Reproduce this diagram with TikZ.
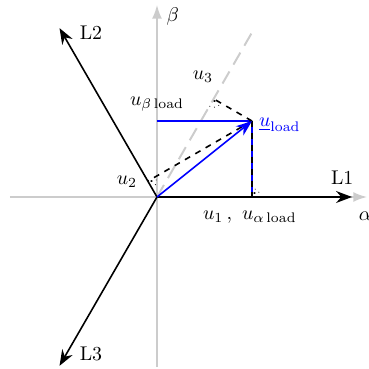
\documentclass[tikz,border=0pt]{standalone}
\usepackage{amsmath}
\usetikzlibrary{calc,arrows.meta,angles,quotes}
\definecolor{axisgray}{HTML}{CCCCCC}
\definecolor{loadblue}{HTML}{0000FF}

\begin{document}
\begin{tikzpicture}[x=0.74cm,y=0.74cm,
  phase/.style={thick,-{Stealth[length=8pt,width=6pt]}},
  frame/.style={axisgray,line width=1pt,-{Latex[length=7pt,width=5pt]}},
  proj/.style={thick,dashed},
  perp/.style={draw,dotted,angle radius=0.15cm,angle eccentricity=0.45}]
\useasboundingbox (-3.756,-4.115) rectangle (5.048,4.713);
\coordinate (O) at (0,0);
\coordinate (U) at (2.273,1.818);
\coordinate (L1) at (0:4.665);
\coordinate (L2) at (120:4.665);
\coordinate (L3) at (240:4.665);
\coordinate (g60) at (60:4.55);
\coordinate (F1) at ($(O)!(U)!(L1)$);
\coordinate (F2) at ($(O)!(U)!(L2)$);
\coordinate (F3) at ($(O)!(U)!(g60)$);
\coordinate (Ub) at (0,1.818);
% alpha/beta frame
\draw[frame] (-3.52,0) -- (5.03,0);
\draw[frame] (0,-4.07) -- (0,4.6);
\draw[axisgray,line width=1pt,dash pattern=on 7pt off 4pt] (O) -- (g60);
\node at (4.98,-0.45) {$\alpha$};
\node at (0.38,4.31) {$\beta$};
% phase axes
\draw[phase] (O) -- (L1);
\draw[phase] (O) -- (L2);
\draw[phase] (O) -- (L3);
\node at (4.43,0.45) {L1};
\node at (-1.58,3.92) {L2};
\node at (-1.58,-3.76) {L3};
% load vector
\draw[loadblue,thick] (Ub) -- (U);
\draw[loadblue,thick] (U) -- (F1);
\draw[proj] (U) -- (F1);
\draw[proj] (U) -- (F2);
\draw[proj] (U) -- (F3);
\draw[loadblue,thick,-{Stealth[length=8pt,width=6pt]}] (O) -- (U);
\pic[perp,"$\cdot$"] {angle=L1--F1--U};
\pic[perp,"$\cdot$"] {angle=O--F2--U};
\pic[perp,"$\cdot$"] {angle=O--F3--U};
\node[loadblue,right,yshift=-2pt] at (U) {$\underline{u}_\text{load}$};
\node at (0,2.22) {$u_{\beta\,\text{load}}$};
\node at (2.22,-0.48) {$u_1\,,\ u_{\alpha\,\text{load}}$};
\node at (-0.72,0.36) {$u_2$};
\node at (1.10,2.87) {$u_3$};
\end{tikzpicture}
\end{document}
